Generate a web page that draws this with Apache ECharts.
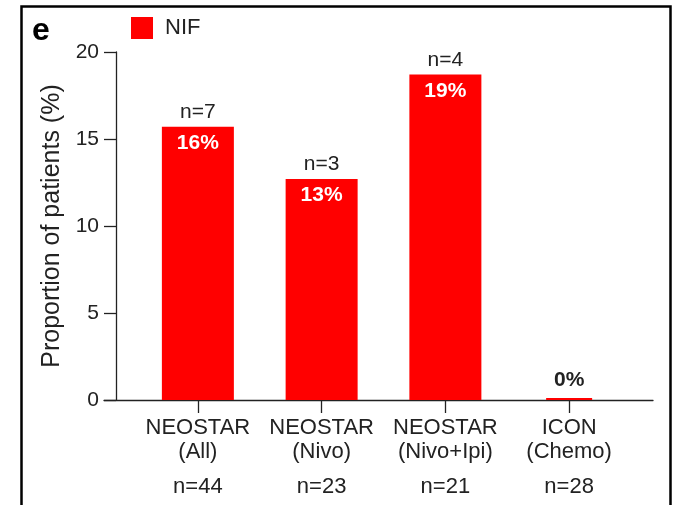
<!DOCTYPE html>
<html>
<head>
<meta charset="utf-8">
<script src="https://cdn.jsdelivr.net/npm/echarts@6/dist/echarts.min.js"></script>
<style>
  html, body { margin: 0; padding: 0; background: #fff; }
  #chart { width: 675px; height: 505px; }
</style>
</head>
<body>
<div id="chart"></div>
<script>
// Cohorts shown on the x axis
const trialNames = ['NEOSTAR', 'NEOSTAR', 'NEOSTAR', 'ICON'];
const armNames = ['(All)', '(Nivo)', '(Nivo+Ipi)', '(Chemo)'];
const cohortSize = [44, 23, 21, 28];
// Patients with NIF in each cohort and the proportion (%)
const nifCount = [7, 3, 4, 0];
const nifPercent = [15.7, 12.7, 18.7, 0];
// Y axis ticks
const yTicks = [0, 5, 10, 15, 20];

const categories = trialNames.map((t, i) => t + '|' + armNames[i] + '|' + cohortSize[i]);
const FONT = 'Liberation Sans, Arial, Helvetica, sans-serif';
const RED = '#ff0000';
const INK = '#222222';

const pctText = p => Math.round(p.value) + '%';

const chart = echarts.init(document.getElementById('chart'), null, { renderer: 'canvas' });

chart.setOption({
  animation: false,
  backgroundColor: '#ffffff',
  textStyle: { fontFamily: FONT },
  grid: [
    { left: 136, right: 44, top: 52, bottom: 105, containLabel: false },
    { left: 104, right: 22, top: 52, bottom: 105, containLabel: false }
  ],
  legend: {
    left: 126, top: 12,
    itemWidth: 22, itemHeight: 22, itemGap: 10,
    icon: 'rect',
    data: ['NIF'],
    textStyle: { fontFamily: FONT, fontSize: 22, color: INK, padding: [0, 0, 0, 7] }
  },
  xAxis: [
    {
      type: 'category', gridIndex: 0,
      data: categories,
      axisLine: { show: false },
      axisTick: { show: true, alignWithLabel: true, length: 13, lineStyle: { color: INK, width: 1.3 } },
      axisLabel: {
        interval: 0, margin: 16,
        formatter: function (v) {
          const p = v.split('|');
          return '{a|' + p[0] + '}\n{a|' + p[1] + '}\n{n|n=' + p[2] + '}';
        },
        rich: {
          a: { fontFamily: FONT, fontSize: 22, color: INK, lineHeight: 24, align: 'center' },
          n: { fontFamily: FONT, fontSize: 22, color: INK, lineHeight: 46, align: 'center' }
        }
      },
      splitLine: { show: false }
    },
    {
      // plain baseline running under the whole plot
      type: 'value', gridIndex: 1, min: 0, max: 1,
      axisLine: { show: true, onZero: false, lineStyle: { color: INK, width: 1.3 } },
      axisTick: { show: false }, axisLabel: { show: false }, splitLine: { show: false }
    },
    {
      // hidden twin axis so empty cohorts get a narrower baseline mark
      type: 'category', gridIndex: 0, data: categories, show: false
    }
  ],
  yAxis: [
    {
      type: 'value', gridIndex: 0,
      min: yTicks[0], max: yTicks[yTicks.length - 1], interval: 5,
      offset: 20,
      name: 'Proportion of patients (%)',
      nameLocation: 'middle', nameGap: 51, nameRotate: 90,
      nameTextStyle: { fontFamily: FONT, fontSize: 25, color: INK },
      axisLine: { show: true, lineStyle: { color: INK, width: 1.3 } },
      axisTick: { show: true, length: 12, lineStyle: { color: INK, width: 1.3 } },
      axisLabel: { fontFamily: FONT, fontSize: 21, color: INK, margin: 17 },
      splitLine: { show: false }
    },
    {
      type: 'value', gridIndex: 1, min: 0, max: 1, show: false
    }
  ],
  series: [
    {
      name: 'NIF', type: 'bar', xAxisIndex: 0, yAxisIndex: 0,
      data: nifPercent.map(v => (v > 0 ? v : null)),
      barWidth: 72,
      itemStyle: { color: RED },
      label: {
        show: true, position: 'insideTop', distance: 6,
        fontFamily: FONT, fontSize: 21, fontWeight: 'bold', color: '#ffffff',
        formatter: pctText
      },
      z: 3
    },
    {
      // cohorts with no NIF: thin red line on the baseline
      name: 'NIF', type: 'bar', xAxisIndex: 2, yAxisIndex: 0,
      data: nifPercent.map(v => (v === 0 ? v : null)),
      barWidth: 46,
      barMinHeight: 2,
      itemStyle: { color: RED },
      label: {
        show: true, position: 'top', distance: 7,
        fontFamily: FONT, fontSize: 21, fontWeight: 'bold', color: INK,
        formatter: pctText
      },
      z: 3
    },
    {
      // patient counts sitting above each bar
      name: 'count', type: 'bar', xAxisIndex: 0, yAxisIndex: 0,
      data: nifPercent,
      barWidth: 72, barGap: '-100%',
      itemStyle: { color: 'rgba(0,0,0,0)' },
      label: {
        show: true, position: 'top', distance: 4,
        fontFamily: FONT, fontSize: 21, color: INK,
        formatter: p => nifCount[p.dataIndex] > 0 ? 'n=' + nifCount[p.dataIndex] : ''
      },
      silent: true, z: 2
    }
  ],
  graphic: [
    {
      type: 'text', left: 32, top: 15,
      style: { text: 'e', fontFamily: FONT, fontSize: 32, fontWeight: 'bold', fill: '#000' }
    },
    {
      type: 'rect', left: 19, top: 4,
      shape: { width: 649, height: 520 },
      style: { fill: 'none', stroke: '#000', lineWidth: 2.5 },
      z: 10
    }
  ]
});
</script>
</body>
</html>
